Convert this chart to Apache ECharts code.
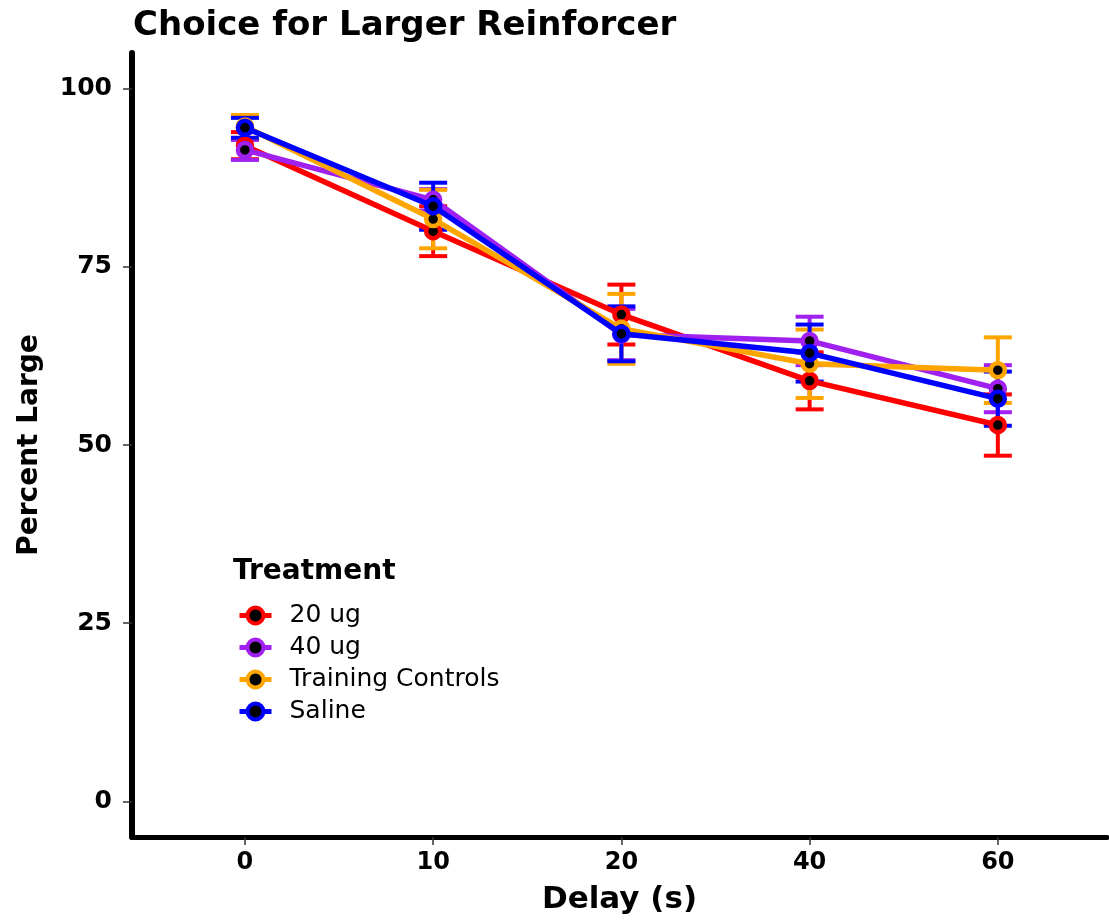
<!DOCTYPE html>
<html>
<head>
<meta charset="utf-8">
<script src="https://cdn.jsdelivr.net/npm/echarts@6/dist/echarts.min.js"></script>
<style>
html, body { margin: 0; padding: 0; background: #fff; }
#main { width: 1109px; height: 921px; }
</style>
</head>
<body>
<div id="main"></div>
<script>
// delay categories (evenly spaced on the axis)
var categories = ['0', '10', '20', '40', '60'];
var yTicks = [0, 25, 50, 75, 100];

var groupNames = ['20 ug', '40 ug', 'Training Controls', 'Saline'];
var groupColors = ['#ff0000', '#a020f0', '#ffa500', '#0000ff'];

// means and error half-widths
var mean20 = [92.0, 80.0, 68.3, 59.0, 52.8];
var err20 = [1.9, 3.5, 4.2, 4.0, 4.3];
var mean40 = [91.4, 84.4, 65.5, 64.6, 57.9];
var err40 = [1.4, 1.5, 3.6, 3.4, 3.3];
var meanTC = [94.7, 81.7, 66.3, 61.4, 60.5];
var errTC = [1.6, 4.1, 4.9, 4.8, 4.6];
var meanSal = [94.5, 83.5, 65.6, 62.9, 56.5];
var errSal = [1.4, 3.3, 3.85, 4.0, 3.8];

var means = [mean20, mean40, meanTC, meanSal];
var errs = [err20, err40, errTC, errSal];

var dom = document.getElementById('main');
var myChart = echarts.init(dom);

var fontFam = 'DejaVu Sans';

var series = [];

// lines + points (listed first so the legend takes its icons from them)
groupNames.forEach(function (name, g) {
    series.push({
        type: 'line',
        name: name,
        z: 2 + g,
        data: means[g].map(function (m, i) { return [i, m]; }),
        symbol: 'circle',
        symbolSize: 14,
        lineStyle: { color: groupColors[g], width: 5.5 },
        itemStyle: { color: '#000', borderColor: groupColors[g], borderWidth: 4.5 },
        emphasis: { disabled: true }
    });
});

// error bars, drawn underneath
groupNames.forEach(function (name, g) {
    var rows = means[g].map(function (m, i) {
        return [i, m - errs[g][i], m + errs[g][i]];
    });
    series.push({
        type: 'custom',
        name: name + ' err',
        z: 1,
        silent: true,
        data: rows,
        renderItem: function (params, api) {
            var x = api.value(0);
            var lo = api.coord([x, api.value(1)]);
            var hi = api.coord([x, api.value(2)]);
            var half = 14;
            var st = { stroke: groupColors[g], lineWidth: 4 };
            return {
                type: 'group',
                children: [
                    { type: 'line', shape: { x1: hi[0], y1: hi[1], x2: lo[0], y2: lo[1] }, style: st },
                    { type: 'line', shape: { x1: hi[0] - half, y1: hi[1], x2: hi[0] + half, y2: hi[1] }, style: st },
                    { type: 'line', shape: { x1: lo[0] - half, y1: lo[1], x2: lo[0] + half, y2: lo[1] }, style: st }
                ]
            };
        }
    });
});

option = {
    animation: false,
    backgroundColor: '#fff',
    title: [{
        text: 'Choice for Larger Reinforcer',
        left: 128,
        top: 4,
        textStyle: { fontFamily: fontFam, fontWeight: 'bold', fontSize: 34, color: '#000' }
    }, {
        text: 'Treatment',
        left: 228,
        top: 553,
        textStyle: { fontFamily: fontFam, fontWeight: 'bold', fontSize: 28, color: '#000' }
    }],
    legend: {
        data: groupNames,
        orient: 'vertical',
        left: 232,
        top: 598,
        itemWidth: 32,
        itemHeight: 20,
        itemGap: 7,
        lineStyle: { width: 5 },
        itemStyle: { borderWidth: 4 },
        textStyle: { fontFamily: fontFam, fontSize: 25, color: '#000', padding: [0, 0, 0, 13] }
    },
    grid: {
        left: 132,
        right: 2,
        top: 53,
        bottom: 84
    },
    xAxis: {
        type: 'value',
        min: -0.6,
        max: 4.58,
        name: 'Delay (s)',
        nameLocation: 'middle',
        nameGap: 47,
        nameTextStyle: { fontFamily: fontFam, fontWeight: 'bold', fontSize: 31, color: '#000' },
        axisLine: { show: true, onZero: false, lineStyle: { color: '#000', width: 5 } },
        axisTick: { show: true, length: 8, customValues: [0, 1, 2, 3, 4], lineStyle: { color: '#333', width: 1.5 } },
        axisLabel: {
            customValues: [0, 1, 2, 3, 4],
            margin: 14,
            fontFamily: fontFam,
            fontWeight: 'bold',
            fontSize: 24,
            color: '#000',
            formatter: function (v) { return categories[Math.round(v)]; }
        },
        splitLine: { show: false }
    },
    yAxis: {
        type: 'value',
        min: -5,
        max: 105,
        name: 'Percent Large',
        nameLocation: 'middle',
        nameGap: 88,
        nameTextStyle: { fontFamily: fontFam, fontWeight: 'bold', fontSize: 28, color: '#000' },
        axisLine: { show: true, onZero: false, lineStyle: { color: '#000', width: 6 } },
        axisTick: { show: true, length: 9, customValues: yTicks, lineStyle: { color: '#333', width: 1.5 } },
        axisLabel: {
            customValues: yTicks,
            margin: 20,
            fontFamily: fontFam,
            fontWeight: 'bold',
            fontSize: 25,
            color: '#000'
        },
        splitLine: { show: false }
    },
    series: series
};

if (option && typeof option === 'object') {
    myChart.setOption(option, true);
}
window.addEventListener('resize', function () {
    myChart.resize();
});
</script>
</body>
</html>
